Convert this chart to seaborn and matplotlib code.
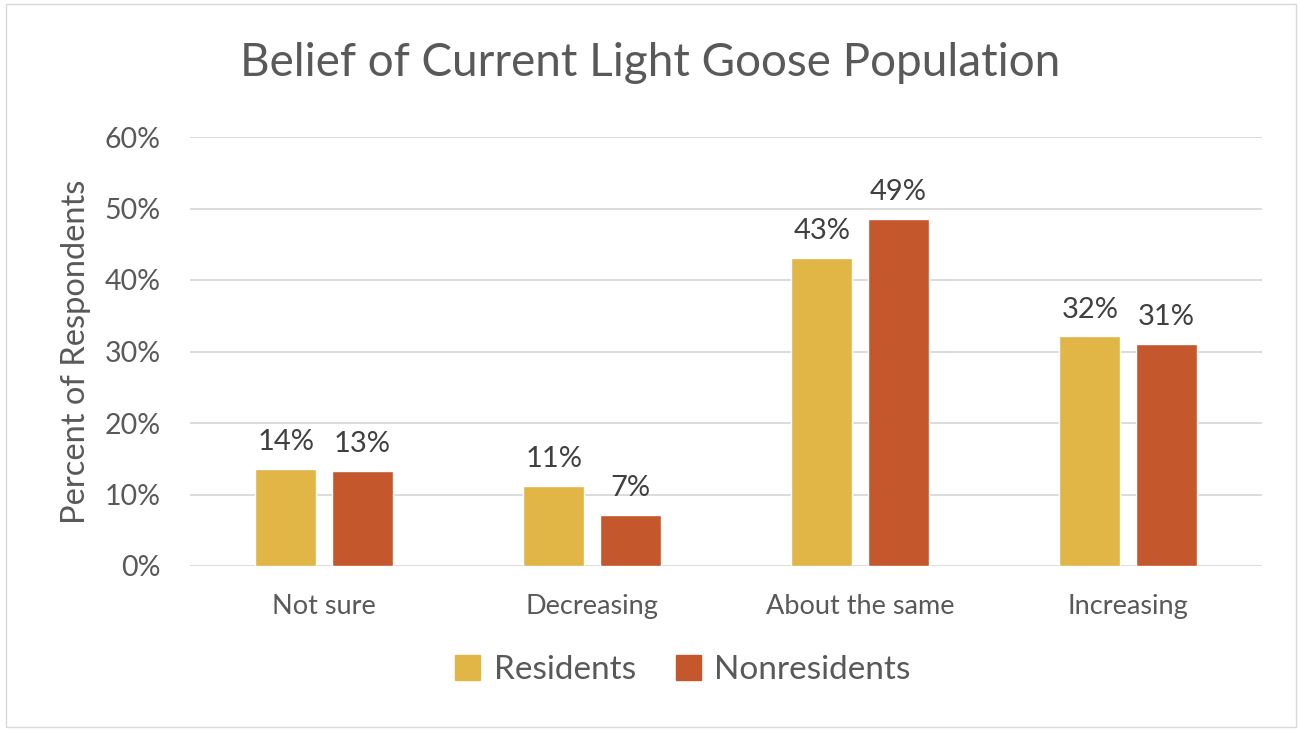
import pandas as pd
import matplotlib.pyplot as plt
import seaborn as sns
from matplotlib.patches import Rectangle

# dados
categories = ['Not sure', 'Decreasing', 'About the same', 'Increasing']
residents = [13.6, 11.2, 43.1, 32.1]
nonresidents = [13.3, 7.1, 48.6, 31.0]
res_labels = ['14%', '11%', '43%', '32%']
nonres_labels = ['13%', '7%', '49%', '31%']
groups = ['Residents', 'Nonresidents']
colors = ['#E1B546', '#C4572B']

df = pd.DataFrame({
    'Belief': categories * 2,
    'Group': [groups[0]] * 4 + [groups[1]] * 4,
    'Percent': residents + nonresidents,
})

sns.set_style('white')
plt.rcParams['font.family'] = ['Lato', 'DejaVu Sans']

fig = plt.figure(figsize=(13.01, 7.31), dpi=100)
ax = fig.add_axes([190 / 1301, 1 - 566 / 731, 1072 / 1301, 429 / 731])

sns.barplot(data=df, x='Belief', y='Percent', hue='Group', palette=colors, saturation=1,
            width=0.57, gap=0.2, ax=ax, legend=False)

for i, cont in enumerate(ax.containers):
    labs = res_labels if i == 0 else nonres_labels
    ax.bar_label(cont, labels=labs, padding=10, fontsize=21, color='#404040')

ax.set_ylim(0, 60)
ax.set_xlim(-0.5, 3.5)
ax.set_yticks(range(0, 61, 10))
ax.set_yticklabels([f'{v}%' for v in range(0, 61, 10)], fontsize=20.5, color='#595959')
ax.tick_params(axis='x', labelsize=19.5, labelcolor='#595959', length=0, pad=20)
ax.tick_params(axis='y', length=0, pad=21)
ax.yaxis.grid(True, color='#D9D9D9', linewidth=1.3)
ax.set_axisbelow(True)
for s in ax.spines.values():
    s.set_visible(False)
ax.set_xlabel('')
ax.set_ylabel('Percent of Respondents', fontsize=23.5, color='#595959', labelpad=10)

fig.text(0.5, 1 - 63 / 731, 'Belief of Current Light Goose Population', ha='center', va='center',
         fontsize=33, color='#595959')

handles = [Rectangle((0, 0), 1, 1, color=c) for c in colors]
fig.legend(handles, groups, loc='center', bbox_to_anchor=(0.525, 1 - 670 / 731), ncol=2,
           frameon=False, fontsize=24, labelcolor='#595959', handlelength=0.75, handleheight=0.75,
           columnspacing=1.2, handletextpad=0.4)

fig.patches.append(Rectangle((6 / 1301, 4 / 731), 1290 / 1301, 723 / 731, transform=fig.transFigure,
                             fill=False, edgecolor='#D9D9D9', linewidth=1))

fig.savefig('out.png', dpi=100)
